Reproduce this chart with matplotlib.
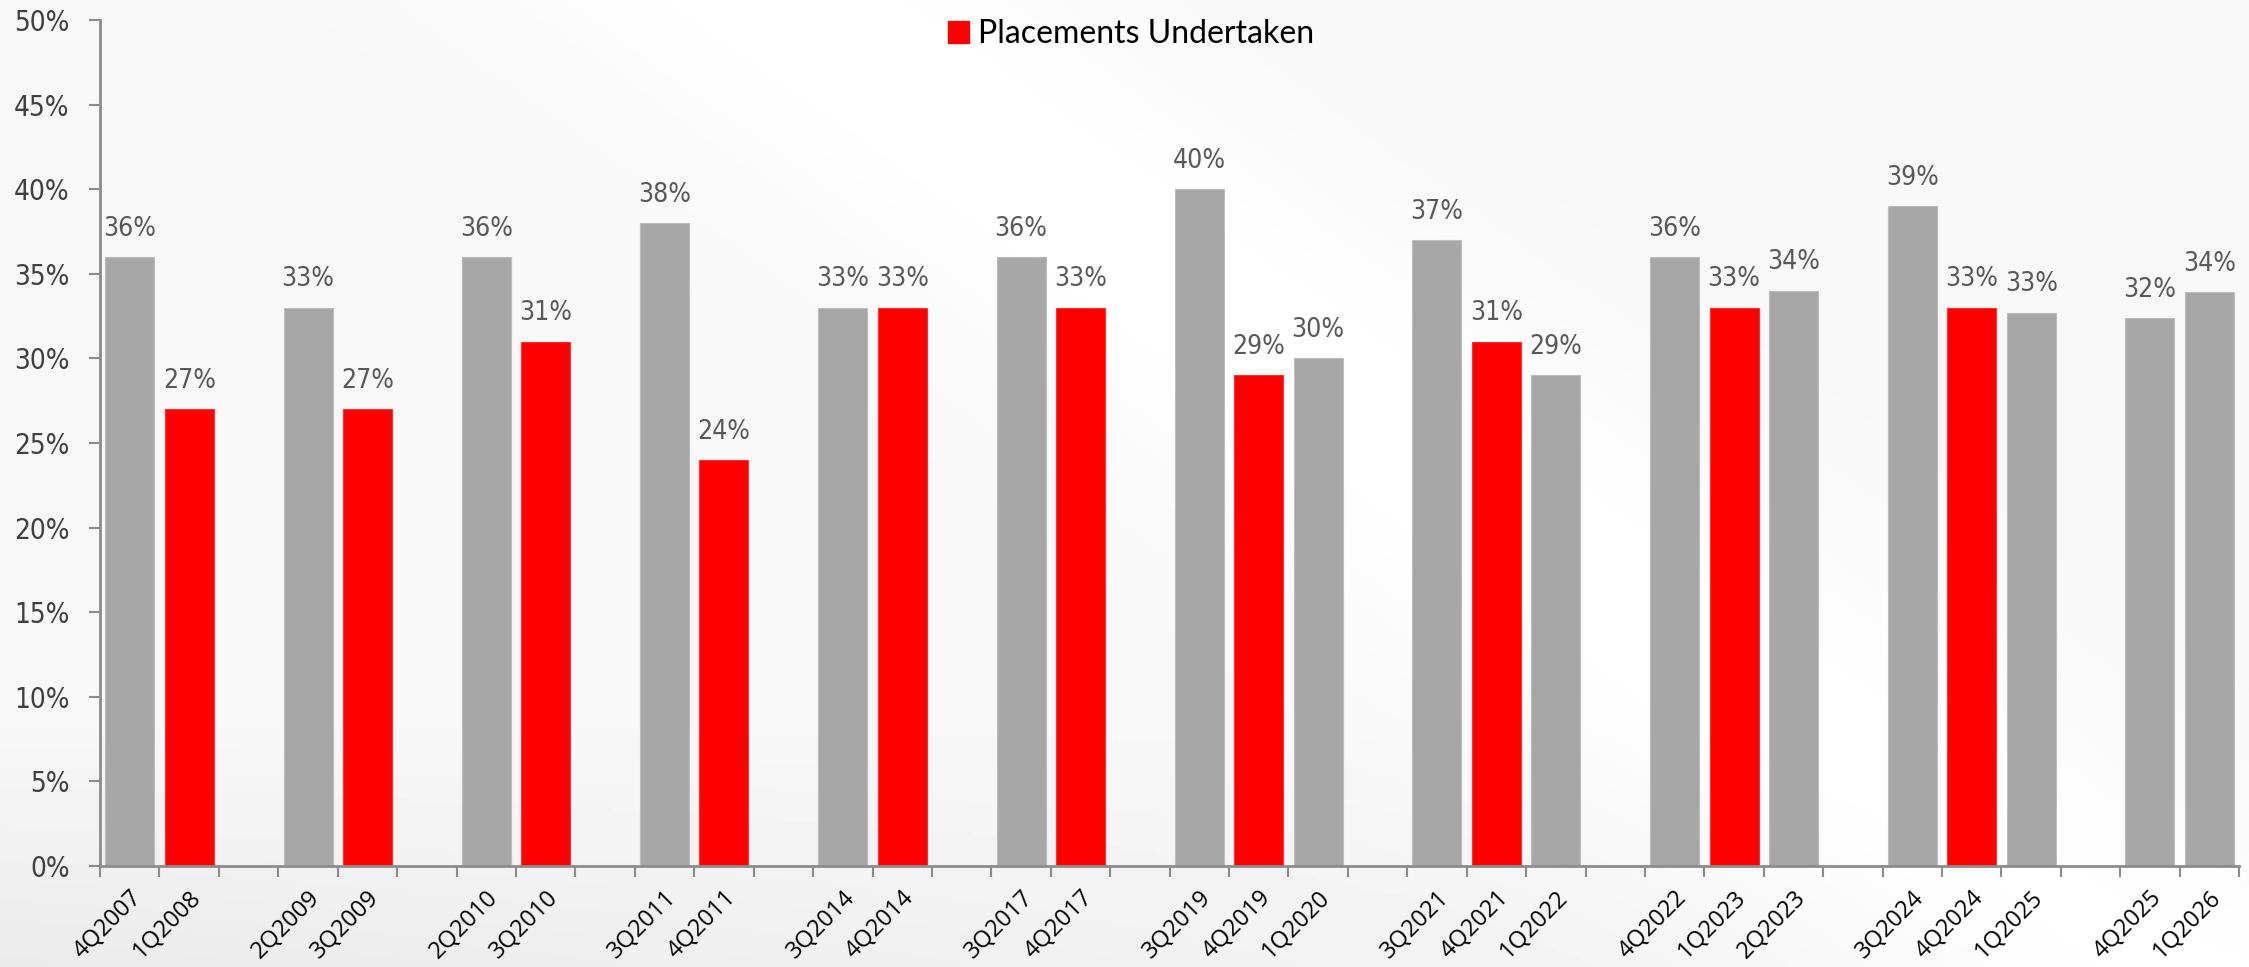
import numpy as np
import matplotlib
matplotlib.use("Agg")
import matplotlib.pyplot as plt
from matplotlib.patches import Patch

# quarters in chart order, "" marks the spacer slot between groups
quarters = ["4Q2007", "1Q2008", "", "2Q2009", "3Q2009", "", "2Q2010", "3Q2010", "",
            "3Q2011", "4Q2011", "", "3Q2014", "4Q2014", "", "3Q2017", "4Q2017", "",
            "3Q2019", "4Q2019", "1Q2020", "", "3Q2021", "4Q2021", "1Q2022", "",
            "4Q2022", "1Q2023", "2Q2023", "", "3Q2024", "4Q2024", "1Q2025", "",
            "4Q2025", "1Q2026"]
share = [36, 27, None, 33, 27, None, 36, 31, None,
         38, 24, None, 33, 33, None, 36, 33, None,
         40, 29, 30, None, 37, 31, 29, None,
         36, 33, 34, None, 39, 33, 32.7, None,
         32.4, 33.9]
placement_quarters = ["1Q2008", "3Q2009", "3Q2010", "4Q2011", "4Q2014",
                      "4Q2017", "4Q2019", "4Q2021", "1Q2023", "4Q2024"]

GRAY = "#A6A6A6"
RED = "#FF0000"
label_font = dict(family=["DejaVu Sans", "Liberation Sans"], stretch="condensed",
                  weight="light")

fig = plt.figure(figsize=(22.49, 9.67), dpi=100)

# faint background wash
bg = fig.add_axes([0, 0, 1, 1], zorder=-10)
yy, xx = np.mgrid[0:1:200j, 0:1:400j]
wash = 0.97 + 0.03 * np.exp(-((xx - yy * 0.6 - 0.35) ** 2) / 0.02)
wash = np.minimum(wash, 1.0) - 0.05 * np.clip(yy - 0.75, 0, 1) * 4 * (1 - xx)
bg.imshow(wash, cmap="gray", vmin=0, vmax=1, aspect="auto", extent=[0, 1, 0, 1])
bg.axis("off")

ax = fig.add_axes([0.0445, 0.1044, 0.9511, 0.8749])
ax.patch.set_alpha(0)

x = np.arange(len(quarters))
for i, (q, v) in enumerate(zip(quarters, share)):
    if v is None:
        continue
    red = q in placement_quarters
    ax.bar(i, v, width=0.825, color=RED if red else GRAY,
           edgecolor="#FF3333" if red else "#BDBDBD", linewidth=0.8)
    ax.annotate(f"{v:.0f}%", (i, v), xytext=(0, 11), textcoords="offset points",
                ha="center", va="bottom", fontsize=19, color="#595959",
                **label_font)

ax.set_xlim(-0.5, len(quarters) - 0.5)
ax.set_ylim(0, 50)
ax.set_yticks(np.arange(0, 51, 5))
ax.set_yticklabels([f"{t}%" for t in range(0, 51, 5)], fontsize=20,
                   color="#404040", **label_font)

ax.set_xticks(x)
ax.set_xticklabels(quarters, rotation=45, ha="right", rotation_mode="anchor",
                   fontsize=17, color="black", family=["Open Sans", "DejaVu Sans"])
ax.tick_params(axis="x", which="major", length=0, pad=14)
ax.set_xticks(np.arange(-0.5, len(quarters), 1), minor=True)
ax.tick_params(axis="x", which="minor", length=8, width=1.5, color="#8C8C8C")
ax.tick_params(axis="y", length=8, width=1.5, color="#8C8C8C", pad=14)

for s in ["top", "right"]:
    ax.spines[s].set_visible(False)
for s in ["left", "bottom"]:
    ax.spines[s].set_color("#8C8C8C")
    ax.spines[s].set_linewidth(2)

handles = [Patch(facecolor=RED, edgecolor=RED, label="Placements Undertaken")]
fig.legend(handles=handles, loc="upper center", bbox_to_anchor=(0.503, 1.01),
           frameon=False, handlelength=0.65, handleheight=0.65,
           handletextpad=0.3, prop={"family": ["Lato", "DejaVu Sans"], "size": 23})

fig.savefig("out.png", dpi=100)
